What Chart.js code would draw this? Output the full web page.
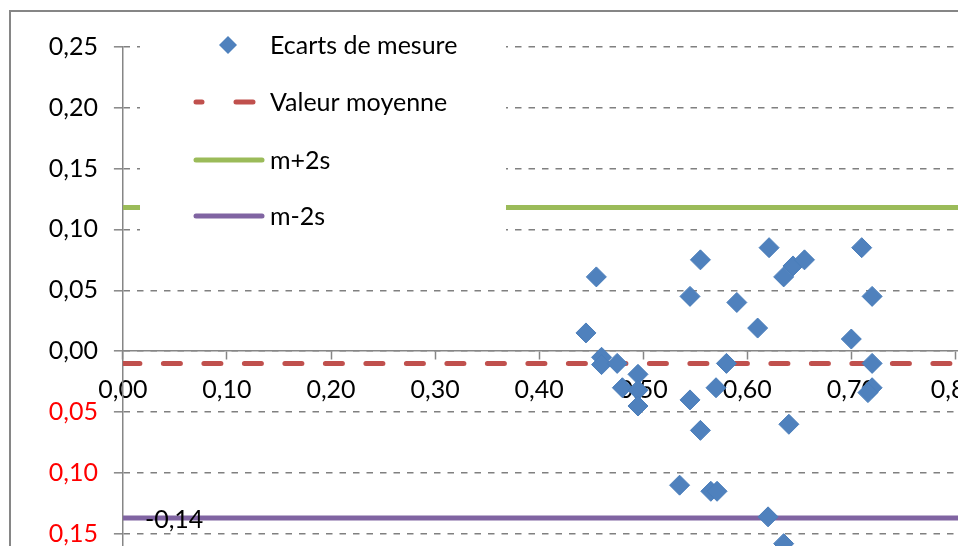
<!DOCTYPE html>
<html>
<head>
<meta charset="utf-8">
<script src="https://cdn.jsdelivr.net/npm/chart.js@4"></script>
<style>
  html, body { margin: 0; padding: 0; overflow: hidden; background: #fff; }
  #wrap { width: 958px; height: 546px; overflow: hidden; }
</style>
</head>
<body>
<div id="wrap"><canvas id="ecarts" width="1100" height="760"></canvas></div>
<script>
// Ecarts de mesure (x = valeur mesuree, y = ecart)
var ecartX = [0.445, 0.455, 0.460, 0.460, 0.475, 0.480, 0.495, 0.495, 0.495, 0.535, 0.545,
              0.545, 0.555, 0.555, 0.565, 0.571, 0.570, 0.580, 0.590, 0.610, 0.621, 0.635,
              0.644, 0.655, 0.640, 0.620, 0.635, 0.700, 0.710, 0.720, 0.720, 0.720, 0.716];
var ecartY = [0.015, 0.061, -0.005, -0.011, -0.010, -0.030, -0.019, -0.032, -0.045, -0.110, 0.045,
              -0.040, 0.075, -0.065, -0.115, -0.115, -0.030, -0.010, 0.040, 0.019, 0.085, 0.061,
              0.070, 0.075, -0.060, -0.136, -0.158, 0.010, 0.085, 0.045, -0.010, -0.030, -0.034];

var moyenne = -0.010;   // Valeur moyenne
var mPlus2s = 0.118;    // m+2s
var mMoins2s = -0.137;  // m-2s
var lineRange = [0, 0.90];

var xTicks = { min: 0, max: 0.90, step: 0.10 };
var yTicks = { min: -0.25, max: 0.25, step: 0.05 };

var FONT = 'Lato, "Liberation Sans", sans-serif';
var FSIZE = 25;

function fmt(v) {
  return Math.abs(v).toFixed(2).replace('.', ',');
}

function hLine(val) {
  return lineRange.map(x => ({ x: x, y: val }));
}

var frame = {
  id: 'frame',
  beforeDraw(chart) {
    var c = chart.ctx;
    c.save();
    c.fillStyle = '#fff';
    c.fillRect(0, 0, chart.width, chart.height);
    c.strokeStyle = '#868686';
    c.lineWidth = 2;
    c.strokeRect(10, 11, chart.width - 20, chart.height - 22);
    c.restore();
  }
};

// label "-0,14" next to the first point of m-2s
var lineLabel = {
  id: 'lineLabel',
  afterDatasetsDraw(chart) {
    var meta = chart.getDatasetMeta(3);
    var p = meta.data[0];
    var c = chart.ctx;
    c.save();
    c.font = FSIZE + 'px ' + FONT;
    c.fillStyle = '#000';
    c.textAlign = 'left';
    c.textBaseline = 'middle';
    c.fillText((mMoins2s < 0 ? '-' : '') + fmt(mMoins2s), p.x + 22, p.y + 2);
    c.restore();
  }
};

// legend box inside the plot
var boxLegend = {
  id: 'boxLegend',
  afterDatasetsDraw(chart) {
    var c = chart.ctx;
    var ds = chart.data.datasets;
    c.save();
    c.fillStyle = '#fff';
    c.fillRect(140, 18, 366, 232);
    var rows = [45, 102, 160, 216];
    c.font = FSIZE + 'px ' + FONT;
    c.textBaseline = 'middle';
    ds.forEach((d, i) => {
      var y = rows[i];
      if (i === 0) {
        c.beginPath();
        c.moveTo(228 - 9, y); c.lineTo(228, y - 9); c.lineTo(228 + 9, y); c.lineTo(228, y + 9);
        c.closePath();
        c.fillStyle = d.backgroundColor;
        c.fill();
      } else {
        c.strokeStyle = d.borderColor;
        c.lineWidth = 5;
        c.lineCap = 'round';
        c.beginPath();
        if (i === 1) {
          c.moveTo(196, y); c.lineTo(202, y);
          c.moveTo(236, y); c.lineTo(253, y);
        } else {
          c.moveTo(196, y); c.lineTo(262, y);
        }
        c.stroke();
      }
      c.fillStyle = '#000';
      c.fillText(d.label, 270, y + 1);
    });
    c.restore();
  }
};

var ctx = document.getElementById('ecarts').getContext('2d');

var chartInstance = new Chart(ctx, {
  type: 'scatter',
  data: {
    datasets: [
      {
        label: 'Ecarts de mesure',
        data: ecartX.map((x, i) => ({ x: x, y: ecartY[i] })),
        backgroundColor: '#4F81BD',
        borderColor: '#4A7EBB',
        borderWidth: 1,
        pointStyle: 'rectRot',
        pointRadius: 10,
        order: 0
      },
      {
        label: 'Valeur moyenne',
        type: 'line',
        data: hLine(moyenne),
        borderColor: '#C0504D',
        borderWidth: 5,
        borderDash: [17, 23.5],
        borderCapStyle: 'round',
        pointRadius: 0,
        order: 3
      },
      {
        label: 'm+2s',
        type: 'line',
        data: hLine(mPlus2s),
        borderColor: '#9BBB59',
        borderWidth: 5,
        pointRadius: 0,
        order: 2
      },
      {
        label: 'm-2s',
        type: 'line',
        data: hLine(mMoins2s),
        borderColor: '#8064A2',
        borderWidth: 5,
        pointRadius: 0,
        order: 1
      }
    ]
  },
  options: {
    responsive: false,
    animation: false,
    layout: {
      padding: { left: 0, top: 46.7, right: 37.5, bottom: 104.3 }
    },
    plugins: {
      legend: { display: false },
      tooltip: { enabled: false },
      title: { display: false }
    },
    scales: {
      x: {
        type: 'linear',
        position: { y: 0 },
        min: xTicks.min,
        max: xTicks.max,
        ticks: {
          stepSize: xTicks.step,
          callback: v => fmt(v),
          color: '#000',
          font: { family: FONT, size: FSIZE },
          padding: 16,
          maxRotation: 0
        },
        grid: {
          drawOnChartArea: false,
          tickLength: 8,
          tickColor: '#868686',
          tickWidth: 1.5
        },
        border: { color: '#868686', width: 1.5 }
      },
      y: {
        type: 'linear',
        min: yTicks.min,
        max: yTicks.max,
        afterFit: s => { s.width = 122.9; },
        ticks: {
          stepSize: yTicks.step,
          callback: v => fmt(v),
          color: c => (c.tick && c.tick.value < -1e-9) ? '#FF0000' : '#000000',
          font: { family: FONT, size: FSIZE },
          padding: 16
        },
        grid: {
          color: '#808080',
          lineWidth: 1.6,
          tickLength: 9,
          tickColor: '#868686',
          tickWidth: 1.5,
          tickBorderDash: []
        },
        border: { color: '#868686', width: 1.5, dash: [6.5, 7] }
      }
    }
  },
  plugins: [frame, boxLegend, lineLabel]
});
</script>
</body>
</html>
